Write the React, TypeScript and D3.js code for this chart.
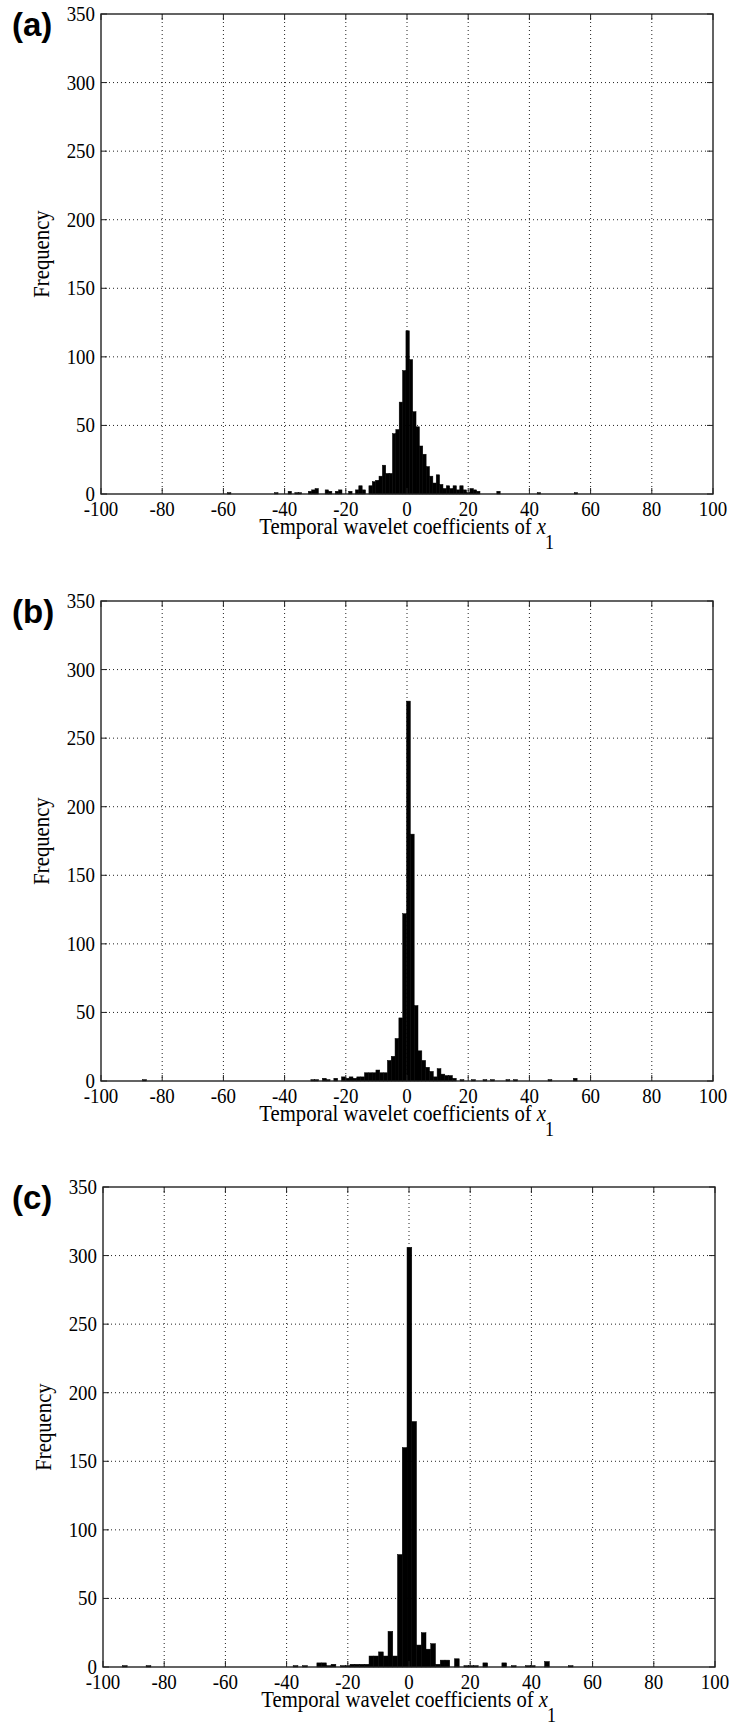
import * as d3 from "d3";

// tick labels
const xTicks = [-100, -80, -60, -40, -20, 0, 20, 40, 60, 80, 100];
const yTicks = [0, 50, 100, 150, 200, 250, 300, 350];

// histogram bins: [bin centre, count]
const binWidthA = 1.1;
const binsA: [number, number][] = [
  [-58.1, 1], [-42.7, 1], [-38.3, 2], [-36.1, 1], [-35.0, 1], [-31.7, 2], [-30.6, 3], [-29.5, 4],
  [-26.2, 3], [-25.1, 2], [-22.9, 2], [-21.8, 3], [-18.5, 2], [-16.3, 3], [-15.2, 6], [-14.1, 3],
  [-11.9, 6], [-10.8, 9], [-9.7, 10], [-8.6, 13], [-7.5, 21], [-6.4, 15], [-5.3, 15], [-4.2, 44],
  [-3.1, 47], [-2.0, 67], [-0.9, 90], [0.2, 119], [1.3, 98], [2.4, 60], [3.5, 49], [4.6, 35],
  [5.7, 29], [6.8, 20], [7.9, 13], [9.0, 8], [10.1, 14], [11.2, 7], [12.3, 4], [13.4, 6],
  [14.5, 4], [15.6, 6], [16.7, 3], [17.8, 6], [18.9, 3], [20.0, 1], [21.1, 4], [22.2, 3],
  [23.3, 2], [29.9, 2], [43.1, 1], [55.2, 1],
];

const binWidthB = 1.25;
const binsB: [number, number][] = [
  [-85.78, 1], [-30.78, 1], [-29.53, 1], [-27.03, 2], [-25.78, 1], [-23.28, 2], [-20.78, 3],
  [-19.53, 2], [-18.28, 3], [-17.03, 2], [-15.78, 3], [-14.53, 3], [-13.28, 6], [-12.03, 6],
  [-10.78, 6], [-9.53, 8], [-8.28, 6], [-7.03, 6], [-5.78, 15], [-4.53, 18], [-3.28, 31],
  [-2.03, 46], [-0.78, 122], [0.47, 277], [1.72, 180], [2.97, 55], [4.22, 22], [5.47, 15],
  [6.72, 10], [7.97, 7], [9.22, 3], [10.47, 9], [11.72, 5], [12.97, 4], [14.22, 4], [15.47, 2],
  [17.97, 1], [21.72, 1], [25.47, 1], [27.97, 1], [32.97, 1], [35.47, 1], [46.72, 1], [54.97, 2],
];

const binWidthC = 1.55;
const binsC: [number, number][] = [
  [-92.88, 1], [-85.13, 1], [-37.08, 1], [-33.98, 1], [-29.33, 3], [-27.78, 3], [-26.23, 1],
  [-24.68, 2], [-21.58, 1], [-20.03, 1], [-18.48, 2], [-16.93, 2], [-15.38, 2], [-13.83, 2],
  [-12.28, 8], [-10.73, 8], [-9.18, 11], [-7.63, 8], [-6.08, 26], [-4.53, 8], [-2.98, 82],
  [-1.43, 160], [0.13, 306], [1.68, 179], [3.23, 16], [4.78, 25], [6.33, 13], [7.88, 17],
  [9.43, 2], [10.98, 5], [12.53, 5], [15.63, 6], [18.73, 1], [20.28, 1], [21.83, 1],
  [24.93, 3], [31.13, 3], [34.23, 1], [38.88, 1], [40.43, 1], [45.08, 4], [52.83, 1],
];

const serif = "'Liberation Serif', 'Times New Roman', serif";

function Histogram({ label, bins, binWidth, left, top }: {
  label: string; bins: [number, number][]; binWidth: number; left: number; top: number;
}) {
  const width = 612;
  const height = 480;
  const x = d3.scaleLinear().domain([-100, 100]).range([left, left + width]);
  const y = d3.scaleLinear().domain([0, 350]).range([top + height, top]);
  const tick = 6;
  const labelEnd = x(0) + 139;

  return (
    <g>
      {/* grid */}
      {xTicks.slice(1, -1).map((t) => (
        <line key={"gx" + t} x1={x(t)} x2={x(t)} y1={y(350)} y2={y(0)}
          stroke="#222" strokeWidth={1} strokeDasharray="1,3" />
      ))}
      {yTicks.slice(1, -1).map((t) => (
        <line key={"gy" + t} x1={x(-100)} x2={x(100)} y1={y(t)} y2={y(t)}
          stroke="#222" strokeWidth={1} strokeDasharray="1,3" />
      ))}

      {/* bars */}
      {bins.map(([c, n], i) => (
        <rect key={i} x={x(c - binWidth / 2)} width={x(c + binWidth / 2) - x(c - binWidth / 2)}
          y={y(n)} height={y(0) - y(n)} fill="#000" stroke="#000" strokeWidth={0.5} />
      ))}

      {/* ticks on all four sides, pointing in */}
      {xTicks.map((t) => (
        <g key={"tx" + t}>
          <line x1={x(t)} x2={x(t)} y1={y(0)} y2={y(0) - tick} stroke="#222" />
          <line x1={x(t)} x2={x(t)} y1={y(350)} y2={y(350) + tick} stroke="#222" />
          <text transform={`translate(${x(t)},${y(0) + 22}) scale(0.9,1)`} textAnchor="middle"
            fontFamily={serif} fontSize={21}>{t}</text>
        </g>
      ))}
      {yTicks.map((t) => (
        <g key={"ty" + t}>
          <line x1={x(-100)} x2={x(-100) + tick} y1={y(t)} y2={y(t)} stroke="#222" />
          <line x1={x(100)} x2={x(100) - tick} y1={y(t)} y2={y(t)} stroke="#222" />
          <text transform={`translate(${x(-100) - 6},${y(t) + 7}) scale(0.9,1)`} textAnchor="end"
            fontFamily={serif} fontSize={21}>{t}</text>
        </g>
      ))}

      {/* box */}
      <rect x={x(-100)} y={y(350)} width={width} height={height} fill="none" stroke="#222" strokeWidth={1.4} />

      {/* axis labels */}
      <text transform={`translate(${labelEnd},${y(0) + 40}) scale(0.9,1)`} textAnchor="end"
        fontFamily={serif} fontSize={23}>
        Temporal wavelet coefficients of <tspan fontStyle="italic">x</tspan>
      </text>
      <text transform={`translate(${labelEnd - 1},${y(0) + 55}) scale(0.9,1)`} textAnchor="start"
        fontFamily={serif} fontSize={20}>1</text>
      <text transform={`translate(${x(-100) - 52},${(y(0) + y(350)) / 2}) rotate(-90) scale(0.9,1)`}
        textAnchor="middle" fontFamily={serif} fontSize={23}>Frequency</text>

      {/* panel letter */}
      <text x={12} y={top + 22} fontFamily="'Liberation Sans', Arial, sans-serif" fontWeight="bold" fontSize={33}>{label}</text>
    </g>
  );
}

export default function App() {
  return (
    <div style={{ position: "absolute", left: 0, top: 0 }}>
      <svg width={731} height={1726} style={{ display: "block", background: "#fff" }}>
        <Histogram label="(a)" bins={binsA} binWidth={binWidthA} left={101} top={14} />
        <Histogram label="(b)" bins={binsB} binWidth={binWidthB} left={101} top={601} />
        <Histogram label="(c)" bins={binsC} binWidth={binWidthC} left={103} top={1187} />
      </svg>
    </div>
  );
}
